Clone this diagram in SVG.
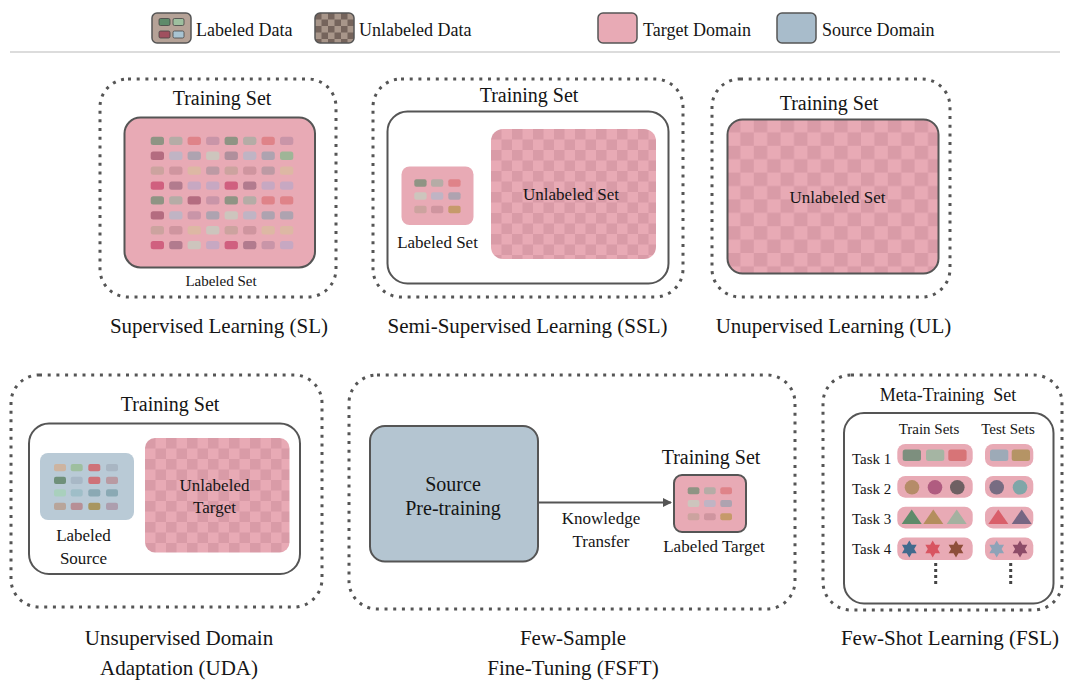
<svg xmlns="http://www.w3.org/2000/svg" xmlns:xlink="http://www.w3.org/1999/xlink" width="1069" height="691" viewBox="0 0 1069 691">
<style>
text{font-family:"Liberation Serif","Times New Roman",serif;fill:#151515}
.dot{fill:none;stroke:#555;stroke-width:3;stroke-dasharray:3 5.7}
.box{stroke:#555;stroke-width:2}
.pk{fill:#e8aab5}
.tt{font-size:20px;text-anchor:middle}
.cap{font-size:21px;text-anchor:middle}
.lb{font-size:17px;text-anchor:middle}
.lg{font-size:18px}
.sm{font-size:15px}
</style>
<defs>
<pattern id="chkSSL" patternUnits="userSpaceOnUse" x="491" y="129" width="21" height="21"><rect width="21" height="21" fill="#e8aab5"/><rect width="10.5" height="10.5" fill="#d99ba7"/><rect x="10.5" y="10.5" width="10.5" height="10.5" fill="#d99ba7"/></pattern>
<pattern id="chkUL" patternUnits="userSpaceOnUse" x="727" y="119" width="26.8" height="26.8"><rect width="26.8" height="26.8" fill="#e8aab5"/><rect width="13.4" height="13.4" fill="#d99ba7"/><rect x="13.4" y="13.4" width="13.4" height="13.4" fill="#d99ba7"/></pattern>
<pattern id="chkUDA" patternUnits="userSpaceOnUse" x="145" y="438" width="21" height="21"><rect width="21" height="21" fill="#e8aab5"/><rect width="10.5" height="10.5" fill="#d99ba7"/><rect x="10.5" y="10.5" width="10.5" height="10.5" fill="#d99ba7"/></pattern>
<pattern id="chkLeg" patternUnits="userSpaceOnUse" x="315" y="13" width="13" height="13"><rect width="13" height="13" fill="#a8968a"/><rect width="6.5" height="6.5" fill="#75645c"/><rect x="6.5" y="6.5" width="6.5" height="6.5" fill="#75645c"/></pattern>
<path id="star" d="M0,-8.5 L2.45,-4.24 L7.36,-4.25 L4.9,0 L7.36,4.25 L2.45,4.24 L0,8.5 L-2.45,4.24 L-7.36,4.25 L-4.9,0 L-7.36,-4.25 L-2.45,-4.24 Z"/>
<path id="tri" d="M0,-7.5 L10,7 L-10,7 Z"/>
<marker id="arr" markerWidth="10" markerHeight="10" refX="8" refY="5" orient="auto" markerUnits="userSpaceOnUse"><path d="M0,0.5 L9,5 L0,9.5 Z" fill="#555"/></marker>
</defs>

<g id="legend">
<line x1="10" y1="52" x2="1060" y2="52" stroke="#d0d0d0" stroke-width="1.5"/>
<rect x="152" y="13" width="39" height="30" rx="5" fill="#b5a297" stroke="#555" stroke-width="1.5"/>
<rect x="159" y="18.5" width="11" height="7" rx="1.5" fill="#5e8a6a" stroke="#444" stroke-width="0.8"/>
<rect x="173" y="18.5" width="11" height="7" rx="1.5" fill="#9ebf9f" stroke="#444" stroke-width="0.8"/>
<rect x="159" y="31" width="11" height="7" rx="1.5" fill="#a0505f" stroke="#444" stroke-width="0.8"/>
<rect x="173" y="31" width="11" height="7" rx="1.5" fill="#a9c4d2" stroke="#444" stroke-width="0.8"/>
<text class="lg" x="196" y="36">Labeled Data</text>
<rect x="315" y="13" width="39" height="30" rx="5" fill="url(#chkLeg)" stroke="#555" stroke-width="1.5"/>
<text class="lg" x="359" y="36">Unlabeled Data</text>
<rect x="598" y="13" width="39" height="30" rx="5" fill="#e8aab5" stroke="#555" stroke-width="1.5"/>
<text class="lg" x="643" y="36">Target Domain</text>
<rect x="777" y="13" width="39" height="30" rx="5" fill="#a8bccb" stroke="#555" stroke-width="1.5"/>
<text class="lg" x="822" y="36">Source Domain</text>
</g>

<g id="SL">
<rect class="dot" x="100" y="79" width="236" height="218" rx="28"/>
<text class="tt" x="222" y="105">Training Set</text>
<rect class="box pk" x="124.5" y="117.5" width="190.5" height="150" rx="16"/>
<g id="SL-cells">
<g transform="translate(0,136.7)">
<rect x="150.7" width="13.3" height="8.3" rx="2.5" fill="#8f9484"/><rect x="169.2" width="13.3" height="8.3" rx="2.5" fill="#b5aca6"/><rect x="187.6" width="13.3" height="8.3" rx="2.5" fill="#df8389"/><rect x="206.1" width="13.3" height="8.3" rx="2.5" fill="#c995a8"/><rect x="224.6" width="13.3" height="8.3" rx="2.5" fill="#8f9484"/><rect x="243.1" width="13.3" height="8.3" rx="2.5" fill="#b5aca6"/><rect x="261.5" width="13.3" height="8.3" rx="2.5" fill="#df8389"/><rect x="280" width="13.3" height="8.3" rx="2.5" fill="#c995a8"/>
</g>
<g transform="translate(0,151.6)">
<rect x="150.7" width="13.3" height="8.3" rx="2.5" fill="#b46c80"/><rect x="169.2" width="13.3" height="8.3" rx="2.5" fill="#c0b4c4"/><rect x="187.6" width="13.3" height="8.3" rx="2.5" fill="#aea3b0"/><rect x="206.1" width="13.3" height="8.3" rx="2.5" fill="#cdc5bd"/><rect x="224.6" width="13.3" height="8.3" rx="2.5" fill="#b08f9c"/><rect x="243.1" width="13.3" height="8.3" rx="2.5" fill="#c0b4c4"/><rect x="261.5" width="13.3" height="8.3" rx="2.5" fill="#aea3b0"/><rect x="280" width="13.3" height="8.3" rx="2.5" fill="#9fb597"/>
</g>
<g transform="translate(0,166.5)">
<rect x="150.7" width="13.3" height="8.3" rx="2.5" fill="#cca39f"/><rect x="169.2" width="13.3" height="8.3" rx="2.5" fill="#cf959f"/><rect x="187.6" width="13.3" height="8.3" rx="2.5" fill="#ddb8a4"/><rect x="206.1" width="13.3" height="8.3" rx="2.5" fill="#bd9aa4"/><rect x="224.6" width="13.3" height="8.3" rx="2.5" fill="#cca39f"/><rect x="243.1" width="13.3" height="8.3" rx="2.5" fill="#cf959f"/><rect x="261.5" width="13.3" height="8.3" rx="2.5" fill="#bd9aa4"/><rect x="280" width="13.3" height="8.3" rx="2.5" fill="#ddb8a4"/>
</g>
<g transform="translate(0,181.4)">
<rect x="150.7" width="13.3" height="8.3" rx="2.5" fill="#d0607f"/><rect x="169.2" width="13.3" height="8.3" rx="2.5" fill="#b27b8e"/><rect x="187.6" width="13.3" height="8.3" rx="2.5" fill="#c7a8c2"/><rect x="206.1" width="13.3" height="8.3" rx="2.5" fill="#c7a8c2"/><rect x="224.6" width="13.3" height="8.3" rx="2.5" fill="#d0607f"/><rect x="243.1" width="13.3" height="8.3" rx="2.5" fill="#b27b8e"/><rect x="261.5" width="13.3" height="8.3" rx="2.5" fill="#c7a8c2"/><rect x="280" width="13.3" height="8.3" rx="2.5" fill="#c7a8c2"/>
</g>
<g transform="translate(0,196.3)">
<rect x="150.7" width="13.3" height="8.3" rx="2.5" fill="#8f9484"/><rect x="169.2" width="13.3" height="8.3" rx="2.5" fill="#b5aca6"/><rect x="187.6" width="13.3" height="8.3" rx="2.5" fill="#b46c80"/><rect x="206.1" width="13.3" height="8.3" rx="2.5" fill="#c995a8"/><rect x="224.6" width="13.3" height="8.3" rx="2.5" fill="#8f9484"/><rect x="243.1" width="13.3" height="8.3" rx="2.5" fill="#b5aca6"/><rect x="261.5" width="13.3" height="8.3" rx="2.5" fill="#df8389"/><rect x="280" width="13.3" height="8.3" rx="2.5" fill="#df8389"/>
</g>
<g transform="translate(0,211.2)">
<rect x="150.7" width="13.3" height="8.3" rx="2.5" fill="#b46c80"/><rect x="169.2" width="13.3" height="8.3" rx="2.5" fill="#c0b4c4"/><rect x="187.6" width="13.3" height="8.3" rx="2.5" fill="#c995a8"/><rect x="206.1" width="13.3" height="8.3" rx="2.5" fill="#aea3b0"/><rect x="224.6" width="13.3" height="8.3" rx="2.5" fill="#cdc5bd"/><rect x="243.1" width="13.3" height="8.3" rx="2.5" fill="#c0b4c4"/><rect x="261.5" width="13.3" height="8.3" rx="2.5" fill="#aea3b0"/><rect x="280" width="13.3" height="8.3" rx="2.5" fill="#aea3b0"/>
</g>
<g transform="translate(0,226.1)">
<rect x="150.7" width="13.3" height="8.3" rx="2.5" fill="#cca39f"/><rect x="169.2" width="13.3" height="8.3" rx="2.5" fill="#cf959f"/><rect x="187.6" width="13.3" height="8.3" rx="2.5" fill="#ddb8a4"/><rect x="206.1" width="13.3" height="8.3" rx="2.5" fill="#cdc5bd"/><rect x="224.6" width="13.3" height="8.3" rx="2.5" fill="#cca39f"/><rect x="243.1" width="13.3" height="8.3" rx="2.5" fill="#cf959f"/><rect x="261.5" width="13.3" height="8.3" rx="2.5" fill="#ddb8a4"/><rect x="280" width="13.3" height="8.3" rx="2.5" fill="#ddb8a4"/>
</g>
<g transform="translate(0,241)">
<rect x="150.7" width="13.3" height="8.3" rx="2.5" fill="#d0607f"/><rect x="169.2" width="13.3" height="8.3" rx="2.5" fill="#b27b8e"/><rect x="187.6" width="13.3" height="8.3" rx="2.5" fill="#cdc5bd"/><rect x="206.1" width="13.3" height="8.3" rx="2.5" fill="#c7a8c2"/><rect x="224.6" width="13.3" height="8.3" rx="2.5" fill="#d0607f"/><rect x="243.1" width="13.3" height="8.3" rx="2.5" fill="#b27b8e"/><rect x="261.5" width="13.3" height="8.3" rx="2.5" fill="#c995a8"/><rect x="280" width="13.3" height="8.3" rx="2.5" fill="#c7a8c2"/>
</g>
</g>
<text x="221" y="286" style="font-size:15px;text-anchor:middle">Labeled Set</text>
<text class="cap" x="219" y="333">Supervised Learning (SL)</text>
</g>

<g id="SSL">
<rect class="dot" x="373" y="79" width="310" height="218" rx="28"/>
<text class="tt" x="529" y="102">Training Set</text>
<rect class="box" x="387.5" y="111.5" width="281" height="172" rx="20" fill="#fff"/>
<rect class="pk" x="401.5" y="166.5" width="72" height="58.5" rx="8"/>
<rect x="414.3" y="179.3" width="12.3" height="7.5" rx="2" fill="#8f9484"/><rect x="431" y="179.3" width="12.3" height="7.5" rx="2" fill="#b5aca6"/><rect x="448.3" y="179.3" width="12.3" height="7.5" rx="2" fill="#df8389"/>
<rect x="414.3" y="192.3" width="12.3" height="7.5" rx="2" fill="#cdc5bd"/><rect x="431" y="192.3" width="12.3" height="7.5" rx="2" fill="#c0b4c4"/><rect x="448.3" y="192.3" width="12.3" height="7.5" rx="2" fill="#aea3b0"/>
<rect x="414.3" y="205.7" width="12.3" height="7.5" rx="2" fill="#cca39f"/><rect x="431" y="205.7" width="12.3" height="7.5" rx="2" fill="#cf959f"/><rect x="448.3" y="205.7" width="12.3" height="7.5" rx="2" fill="#c69a6a"/>
<text class="lb" x="437.5" y="248">Labeled Set</text>
<rect x="491" y="129" width="165" height="130" rx="12" fill="url(#chkSSL)"/>
<text class="lb" x="571" y="199.5">Unlabeled Set</text>
<text class="cap" x="527.5" y="333">Semi-Supervised Learning (SSL)</text>
</g>

<g id="UL">
<rect class="dot" x="712" y="79" width="238" height="218" rx="28"/>
<text class="tt" x="829" y="110">Training Set</text>
<rect class="box" x="727.5" y="119.5" width="211" height="154" rx="15" fill="url(#chkUL)"/>
<text class="lb" x="837.5" y="203">Unlabeled Set</text>
<text class="cap" x="833.5" y="333">Unupervised Learning (UL)</text>
</g>

<g id="UDA">
<rect class="dot" x="11" y="375" width="311" height="232" rx="28"/>
<text class="tt" x="170" y="411">Training Set</text>
<rect class="box" x="29" y="423.5" width="271" height="150.5" rx="20" fill="#fff"/>
<rect x="40" y="453" width="94" height="67" rx="8" fill="#b9cad6"/>
<rect x="54" y="464" width="12" height="7.3" rx="2" fill="#cdb4a0"/><rect x="70.7" y="464" width="12" height="7.3" rx="2" fill="#9ebf9f"/><rect x="88.3" y="464" width="12" height="7.3" rx="2" fill="#cf7278"/><rect x="106" y="464" width="12" height="7.3" rx="2" fill="#a9b6c3"/>
<rect x="54" y="476.7" width="12" height="7.3" rx="2" fill="#6f907a"/><rect x="70.7" y="476.7" width="12" height="7.3" rx="2" fill="#a8b8c6"/><rect x="88.3" y="476.7" width="12" height="7.3" rx="2" fill="#cf7278"/><rect x="106" y="476.7" width="12" height="7.3" rx="2" fill="#b99aa2"/>
<rect x="54" y="489.3" width="12" height="7.3" rx="2" fill="#a9d0bd"/><rect x="70.7" y="489.3" width="12" height="7.3" rx="2" fill="#9fbec8"/><rect x="88.3" y="489.3" width="12" height="7.3" rx="2" fill="#8aa9b4"/><rect x="106" y="489.3" width="12" height="7.3" rx="2" fill="#8aa9b4"/>
<rect x="54" y="502.7" width="12" height="7.3" rx="2" fill="#b8a59a"/><rect x="70.7" y="502.7" width="12" height="7.3" rx="2" fill="#b78f96"/><rect x="88.3" y="502.7" width="12" height="7.3" rx="2" fill="#a89660"/><rect x="106" y="502.7" width="12" height="7.3" rx="2" fill="#ad9eae"/>
<text class="lb" x="83.5" y="541">Labeled</text>
<text class="lb" x="83.5" y="563.5">Source</text>
<rect x="145" y="438" width="144.5" height="114.5" rx="10" fill="url(#chkUDA)"/>
<text class="lb" x="214.5" y="491">Unlabeled</text>
<text class="lb" x="214.5" y="513">Target</text>
<text class="cap" x="179" y="645">Unsupervised Domain</text>
<text class="cap" x="179" y="675">Adaptation (UDA)</text>
</g>

<g id="FSFT">
<rect class="dot" x="349" y="375" width="446" height="234" rx="28"/>
<g id="source-pretraining">
<rect class="box" x="370" y="426" width="168" height="135.5" rx="15" fill="#b4c5d1"/>
<text x="453" y="491" style="font-size:20px;text-anchor:middle">Source</text>
<text x="453" y="515" style="font-size:20px;text-anchor:middle">Pre-training</text>
</g>
<g id="labeled-target">
<text class="tt" x="711" y="464">Training Set</text>
<rect class="box pk" x="674" y="475" width="72" height="57" rx="8"/>
<rect x="687.7" y="487.3" width="11.7" height="7" rx="2" fill="#8f9484"/><rect x="704" y="487.3" width="11.7" height="7" rx="2" fill="#b5aca6"/><rect x="720.3" y="487.3" width="11.7" height="7" rx="2" fill="#df8389"/>
<rect x="687.7" y="500" width="11.7" height="7" rx="2" fill="#cdc5bd"/><rect x="704" y="500" width="11.7" height="7" rx="2" fill="#c0b4c4"/><rect x="720.3" y="500" width="11.7" height="7" rx="2" fill="#aea3b0"/>
<rect x="687.7" y="513.3" width="11.7" height="7" rx="2" fill="#cca39f"/><rect x="704" y="513.3" width="11.7" height="7" rx="2" fill="#cf959f"/><rect x="720.3" y="513.3" width="11.7" height="7" rx="2" fill="#c69a6a"/>
<text class="lb" x="714" y="552">Labeled Target</text>
</g>
<text class="cap" x="573" y="645">Few-Sample</text>
<text class="cap" x="573" y="675">Fine-Tuning (FSFT)</text>
</g>

<g id="connectors">
<line x1="538" y1="502.5" x2="671" y2="502.5" stroke="#555" stroke-width="2" marker-end="url(#arr)"/>
<text class="lb" x="601" y="524">Knowledge</text>
<text class="lb" x="601" y="547">Transfer</text>
</g>

<g id="FSL">
<rect class="dot" x="823" y="375" width="239" height="235" rx="28"/>
<text x="948" y="401" xml:space="preserve" style="font-size:18px;text-anchor:middle">Meta-Training  Set</text>
<rect class="box" x="844" y="413" width="209.5" height="190.5" rx="20" fill="#fff"/>
<text class="sm" x="929" y="433.5" text-anchor="middle">Train Sets</text>
<text class="sm" x="1008" y="433.5" text-anchor="middle">Test Sets</text>
<text class="sm" x="852" y="464">Task 1</text>
<text class="sm" x="852" y="494">Task 2</text>
<text class="sm" x="852" y="524">Task 3</text>
<text class="sm" x="852" y="554">Task 4</text>
<rect class="pk" x="897.3" y="444" width="75.4" height="22.7" rx="8"/>
<rect class="pk" x="985" y="444" width="48.3" height="22.7" rx="8"/>
<rect class="pk" x="897.3" y="476" width="75.4" height="21.7" rx="8"/>
<rect class="pk" x="985" y="476" width="48.3" height="21.7" rx="8"/>
<rect class="pk" x="897.3" y="506.7" width="75.4" height="21.7" rx="8"/>
<rect class="pk" x="985" y="506.7" width="48.3" height="21.7" rx="8"/>
<rect class="pk" x="897.3" y="537.5" width="75.4" height="22.5" rx="8"/>
<rect class="pk" x="985" y="537.5" width="48.3" height="22.5" rx="8"/>
<rect x="902.7" y="449.5" width="18.3" height="11.5" rx="2.5" fill="#7d8f7e"/>
<rect x="926" y="449.5" width="18.3" height="11.5" rx="2.5" fill="#a5b5a3"/>
<rect x="948.3" y="449.5" width="18.3" height="11.5" rx="2.5" fill="#d77477"/>
<rect x="990" y="449.5" width="18.3" height="11.5" rx="2.5" fill="#9daab7"/>
<rect x="1011.7" y="449.5" width="18.3" height="11.5" rx="2.5" fill="#b59465"/>
<circle cx="912" cy="487.3" r="7.3" fill="#b58c69"/>
<circle cx="935" cy="487.3" r="7.3" fill="#b05c80"/>
<circle cx="957.3" cy="487.3" r="7.3" fill="#6f6063"/>
<circle cx="996.7" cy="487.3" r="7.3" fill="#776c82"/>
<circle cx="1020" cy="487.3" r="7.3" fill="#7fa6a8"/>
<use xlink:href="#tri" x="911.7" y="517" fill="#5e8b6a"/>
<use xlink:href="#tri" x="933.3" y="517" fill="#b48e5e"/>
<use xlink:href="#tri" x="956.7" y="517" fill="#a4b1a0"/>
<use xlink:href="#tri" x="998.3" y="517" fill="#d95f6a"/>
<use xlink:href="#tri" x="1021.7" y="517" fill="#766683"/>
<use xlink:href="#star" x="909.3" y="549" fill="#426a8d"/>
<use xlink:href="#star" x="932.7" y="549" fill="#d85561"/>
<use xlink:href="#star" x="956" y="549" fill="#8e4e3a"/>
<use xlink:href="#star" x="996.7" y="549" fill="#8ea3b8"/>
<use xlink:href="#star" x="1020" y="549" fill="#8d4c68"/>
<line x1="935.7" y1="563" x2="935.7" y2="584" stroke="#444" stroke-width="3" stroke-dasharray="3 3"/>
<line x1="1010.7" y1="563" x2="1010.7" y2="584" stroke="#444" stroke-width="3" stroke-dasharray="3 3"/>
<text class="cap" x="950" y="645">Few-Shot Learning (FSL)</text>
</g>
</svg>
